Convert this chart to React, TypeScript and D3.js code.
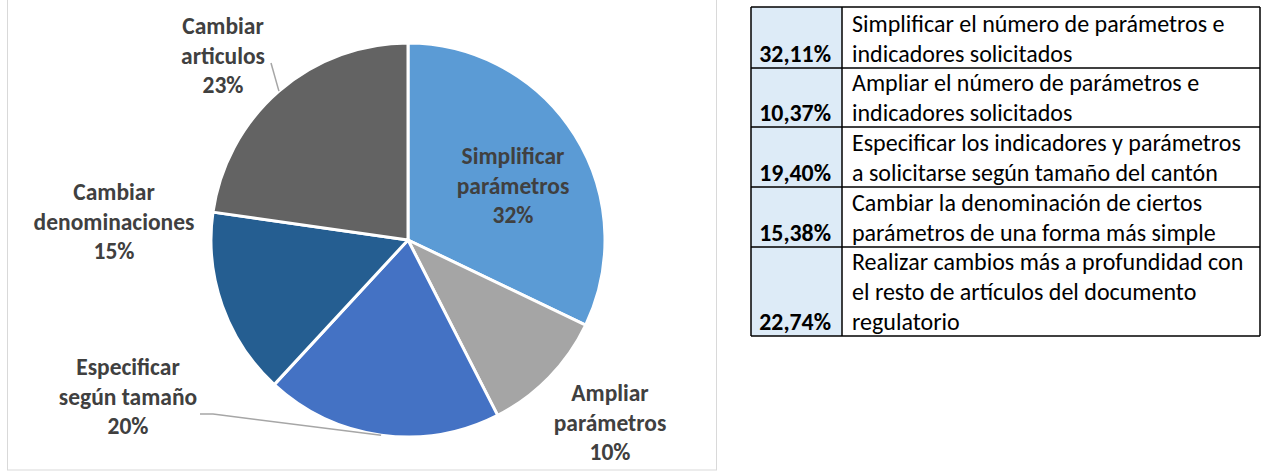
import React from "react";
import * as d3 from "d3";

// ---- data ----
const categories = [
  "Simplificar parámetros",
  "Ampliar parámetros",
  "Especificar según tamaño",
  "Cambiar denominaciones",
  "Cambiar articulos",
];
const labelLines = [
  ["Simplificar", "parámetros"],
  ["Ampliar", "parámetros"],
  ["Especificar", "según tamaño"],
  ["Cambiar", "denominaciones"],
  ["Cambiar", "articulos"],
];
const values = [32.11, 10.37, 19.4, 15.38, 22.74];
const pctLabels = ["32%", "10%", "20%", "15%", "23%"];
const tablePct = ["32,11%", "10,37%", "19,40%", "15,38%", "22,74%"];
const tableText = [
  ["Simplificar el número de parámetros e", "indicadores solicitados"],
  ["Ampliar el número de parámetros e", "indicadores solicitados"],
  ["Especificar los indicadores y parámetros", "a solicitarse según tamaño del cantón"],
  ["Cambiar la denominación de ciertos", "parámetros de una forma más simple"],
  ["Realizar cambios más a profundidad con", "el resto de artículos del documento", "regulatorio"],
];

// ---- styles / layout ----
const colors = ["#5B9BD5", "#A5A5A5", "#4472C4", "#255E91", "#636363"];
const cx = 408, cy = 240, R = 197;
const labelCenters: [number, number][] = [
  [513, 156],
  [610, 393],
  [128, 367],
  [114, 192],
  [223, 26],
];
const leaderStarts: ([number, number][] | null)[] = [
  null,
  null,
  [[200, 414], [213, 414]],
  null,
  [[271, 63]],
];
const lineGap = 29.5;
const labelFont = "Calibri, Carlito, Lato, sans-serif";

const T = { x0: 751, x1: 842, x2: 1260, rowBottoms: [7, 68, 127, 187, 247, 336] };

export default function App() {
  const pie = d3.pie<number>().value((d) => d).sort(null).startAngle(0).endAngle(2 * Math.PI);
  const arcs = pie(values);
  const arc = d3.arc<d3.PieArcDatum<number>>().innerRadius(0).outerRadius(R);

  const lbl = (text: string, x: number, y: number, key: string, size: number, weight: string, anchor: string, fill: string, sy: number) => (
    <text
      key={key}
      transform={`translate(${x},${y}) scale(1,${sy})`}
      textAnchor={anchor}
      fontFamily={labelFont}
      fontSize={size}
      fontWeight={weight}
      fill={fill}
    >
      {text}
    </text>
  );

  return (
    <div style={{ position: "absolute", left: 0, top: 0 }}>
      <svg width={1261} height={471} style={{ display: "block" }}>
        <rect x={0} y={0} width={1261} height={471} fill="#fff" />
        {/* chart frame */}
        <rect x={7.5} y={-1} width={709} height={471} fill="none" stroke="#D9D9D9" strokeWidth={1} />
        <g transform={`translate(${cx},${cy})`}>
          {arcs.map((a, i) => (
            <path key={categories[i]} d={arc(a) || ""} fill={colors[i]} stroke="#fff" strokeWidth={3} strokeLinejoin="round" />
          ))}
        </g>
        {/* leader lines */}
        {arcs.map((a, i) => {
          const s = leaderStarts[i];
          if (!s) return null;
          const mid = (a.startAngle + a.endAngle) / 2;
          const ex = cx + R * Math.sin(mid);
          const ey = cy - R * Math.cos(mid);
          const pts = [...s, [ex, ey]];
          return (
            <polyline key={"l" + i} points={pts.map((p) => p.join(",")).join(" ")} fill="none" stroke="#A6A6A6" strokeWidth={1.5} />
          );
        })}
        {/* labels */}
        {labelLines.map((lines, i) => {
          const [x, y] = labelCenters[i];
          const all = [...lines, pctLabels[i]];
          return (
            <g key={"t" + i}>
              {all.map((t, j) => lbl(t, x, y + j * lineGap + 8, `${i}-${j}`, 23.5, "bold", "middle", "#404040", 1.03))}
            </g>
          );
        })}
        {/* table */}
        {tablePct.map((p, i) => {
          const yTop = T.rowBottoms[i];
          const yBot = T.rowBottoms[i + 1];
          const lines = tableText[i];
          return (
            <g key={"r" + i}>
              <rect x={T.x0} y={yTop} width={T.x1 - T.x0} height={yBot - yTop} fill="#DDEBF7" />
              {lbl(p, T.x1 - 11, yBot - 6, "p" + i, 23.8, "bold", "end", "#000", 1)}
              {lines.map((t, j) =>
                lbl(t, T.x1 + 10, yBot - 6 - (lines.length - 1 - j) * 30, `r${i}-${j}`, 24, "normal", "start", "#000", 1)
              )}
            </g>
          );
        })}
        {T.rowBottoms.map((y, i) => (
          <line key={"h" + i} x1={T.x0} x2={T.x2} y1={y} y2={y} stroke="#000" strokeWidth={1.5} />
        ))}
        {[T.x0, T.x1, T.x2].map((x, i) => (
          <line key={"v" + i} x1={x} x2={x} y1={T.rowBottoms[0]} y2={T.rowBottoms[5]} stroke="#000" strokeWidth={1.5} />
        ))}
      </svg>
    </div>
  );
}
